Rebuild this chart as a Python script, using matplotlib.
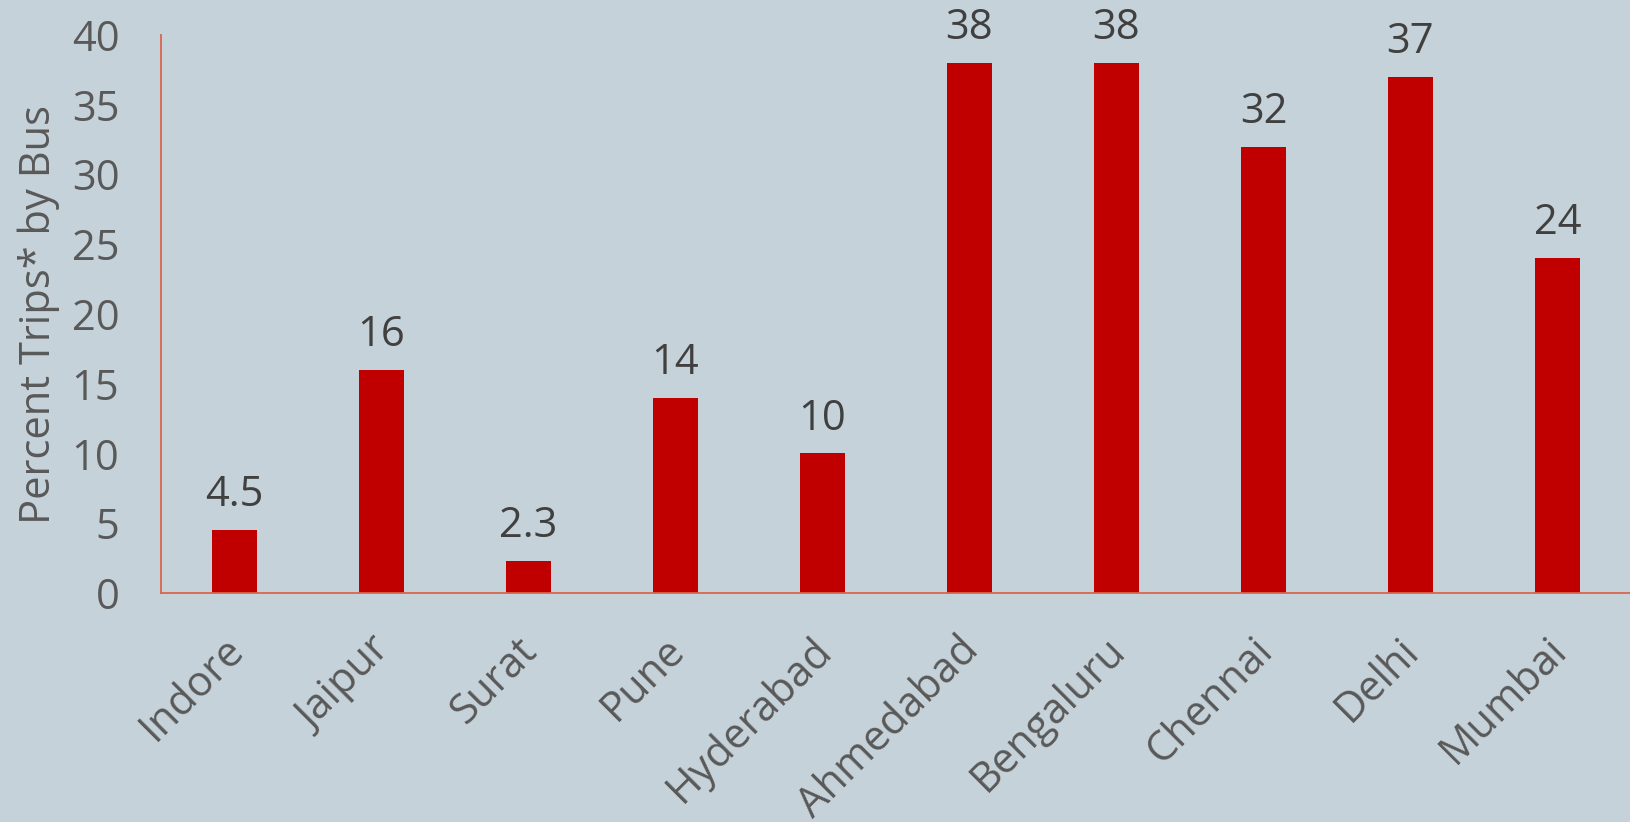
import matplotlib
matplotlib.use("Agg")
import matplotlib.pyplot as plt
from matplotlib.transforms import ScaledTranslation

cities = ["Indore", "Jaipur", "Surat", "Pune", "Hyderabad", "Ahmedabad",
          "Bengaluru", "Chennai", "Delhi", "Mumbai"]
values = [4.5, 16, 2.3, 14, 10, 38, 38, 32, 37, 24]
labels = ["4.5", "16", "2.3", "14", "10", "38", "38", "32", "37", "24"]
yticks = [0, 5, 10, 15, 20, 25, 30, 35, 40]

plt.rcParams['font.family'] = ['Open Sans', 'DejaVu Sans']
bg = "#C6D2D9"
fig = plt.figure(figsize=(16.31, 8.22), dpi=100, facecolor=bg)
ax = fig.add_axes([161/1631, 1-593/822, 1470/1631, 558/822])
ax.set_facecolor(bg)

x = range(len(cities))
bars = ax.bar(x, values, width=0.31, color="#C00000")
for xi, v, lab in zip(x, values, labels):
    ax.annotate(lab, (xi, v), xytext=(0, 10), textcoords="offset points",
                ha="center", va="bottom", fontsize=30, color="#404040")

ax.set_xlim(-0.5, len(cities) - 0.5)
ax.set_ylim(0, 40)
ax.set_yticks(yticks)
ax.set_xticks(list(x))
ax.tick_params(axis="y", labelsize=30, labelcolor="#595959", length=0, pad=30)
ax.tick_params(axis="x", length=0, pad=26)
ax.set_xticklabels(cities, rotation=45, ha="right", rotation_mode="anchor",
                   fontsize=30, color="#595959")
shift = ScaledTranslation(-12/100, 0/100, fig.dpi_scale_trans)
for t in ax.get_xticklabels():
    t.set_transform(t.get_transform() + shift)
ax.set_ylabel("Percent Trips* by Bus", fontsize=30, color="#595959", labelpad=8)

for s in ["top", "right"]:
    ax.spines[s].set_visible(False)
for s in ["left", "bottom"]:
    ax.spines[s].set_color("#D9654C")
    ax.spines[s].set_linewidth(1.3)

fig.savefig("out.png", dpi=100, facecolor=bg)
